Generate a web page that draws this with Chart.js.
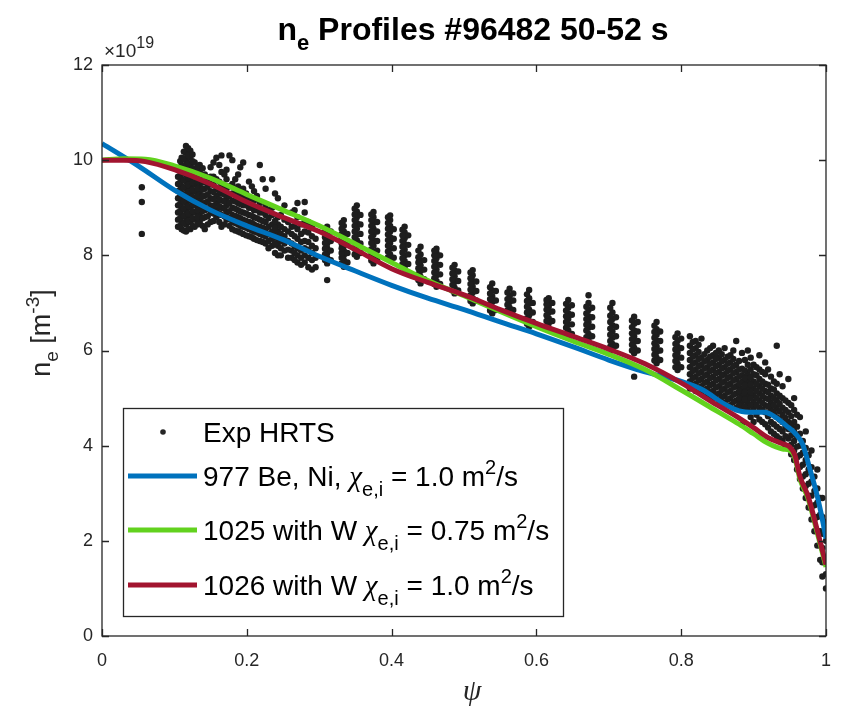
<!DOCTYPE html>
<html>
<head>
<meta charset="utf-8">
<script src="https://cdn.jsdelivr.net/npm/chart.js@4"></script>
<style>
html,body{margin:0;padding:0;background:#fff;}
#wrap{width:845px;height:716px;}
</style>
</head>
<body>
<div id="wrap"><canvas id="c" width="845" height="716"></canvas></div>
<script>
// ---- Data (ne in units of 1e19 m^-3) ----
const xTicks = [0, 0.2, 0.4, 0.6, 0.8, 1];
const yTicks = [0, 2, 4, 6, 8, 10, 12];

// Exp HRTS: channels (psi) with measured ne values
const hrtsPsi = [
  0.055,
  0.105, 0.110, 0.116, 0.122, 0.128, 0.135, 0.142, 0.150, 0.158, 0.165, 0.172, 0.180, 0.188, 0.195,
  0.203, 0.210, 0.218, 0.226, 0.235, 0.243, 0.252, 0.262, 0.270, 0.280, 0.290,
  0.311, 0.334, 0.352, 0.375, 0.398, 0.418, 0.440, 0.462, 0.487, 0.512, 0.539, 0.563, 0.590,
  0.617, 0.644, 0.672, 0.705, 0.735, 0.766, 0.795,
  0.316, 0.339, 0.357, 0.380, 0.403, 0.423, 0.445, 0.467, 0.492, 0.517, 0.544, 0.568, 0.595,
  0.622, 0.649, 0.677, 0.710, 0.740, 0.771, 0.800,
  0.812, 0.820, 0.828, 0.836, 0.844, 0.852, 0.860, 0.868, 0.876, 0.884, 0.892, 0.900, 0.908,
  0.916, 0.924, 0.932, 0.940, 0.948, 0.956, 0.964, 0.972, 0.980, 0.988, 0.995, 1.0
];
const hrtsNe = [
  [9.43, 9.12, 8.45],
  [8.6, 8.75, 8.9, 9.05, 9.2, 9.35, 9.5, 9.65, 9.8],
  [8.55, 8.7, 8.85, 9.0, 9.15, 9.3, 9.45, 9.6, 9.75, 9.9, 10.05],
  [8.5, 8.65, 8.8, 8.95, 9.1, 9.25, 9.4, 9.55, 9.7, 9.85, 10.0, 10.15, 10.3],
  [8.55, 8.7, 8.85, 9.0, 9.15, 9.3, 9.45, 9.6, 9.75, 9.9, 10.05, 10.2],
  [8.6, 8.75, 8.9, 9.05, 9.2, 9.35, 9.5, 9.65, 9.8, 9.95],
  [8.7, 8.85, 9.0, 9.15, 9.3, 9.45, 9.6, 9.75, 9.9],
  [8.55, 8.8, 8.95, 9.1, 9.25, 9.4, 9.55, 9.7],
  [8.7, 8.9, 9.05, 9.2, 9.35, 9.5, 9.65, 9.85],
  [8.8, 8.95, 9.1, 9.25, 9.4, 9.6, 10.05],
  [8.6, 8.85, 9.0, 9.15, 9.3, 9.5, 9.75, 10.1],
  [8.75, 8.9, 9.05, 9.2, 9.4, 9.6, 9.8],
  [8.55, 8.7, 8.85, 9.0, 9.15, 9.3, 9.5, 10.0],
  [8.5, 8.65, 8.8, 8.95, 9.1, 9.25, 9.45, 9.7],
  [8.45, 8.6, 8.75, 8.9, 9.05, 9.2, 9.4, 9.95],
  [8.4, 8.55, 8.7, 8.85, 9.0, 9.2, 9.55],
  [8.35, 8.5, 8.65, 8.8, 8.95, 9.15, 9.35],
  [8.3, 8.45, 8.6, 8.75, 8.9, 9.1, 9.9],
  [8.25, 8.4, 8.55, 8.7, 8.85, 9.05, 9.4],
  [8.2, 8.35, 8.5, 8.65, 8.85, 9.0, 9.6],
  [8.0, 8.2, 8.35, 8.5, 8.65, 8.8, 9.2],
  [8.1, 8.25, 8.4, 8.55, 8.75, 9.05],
  [7.95, 8.1, 8.25, 8.45, 8.6, 8.9],
  [7.85, 8.0, 8.15, 8.35, 8.55, 8.8, 9.1],
  [7.85, 8.0, 8.15, 8.3, 8.5, 8.7, 8.9, 9.12],
  [7.7, 7.9, 8.05, 8.2, 8.4, 8.6],
  [7.48, 7.83, 7.95, 8.05, 8.15, 8.25, 8.35, 8.45, 8.6],
  [7.76, 7.9, 8.0, 8.1, 8.2, 8.3, 8.4, 8.5, 8.62, 8.74],
  [7.97, 8.08, 8.2, 8.32, 8.44, 8.56, 8.68, 8.8, 8.92, 9.05],
  [7.83, 7.95, 8.07, 8.2, 8.32, 8.44, 8.56, 8.68, 8.8, 8.91],
  [7.9, 8.02, 8.14, 8.26, 8.38, 8.5, 8.62, 8.74, 8.84],
  [7.76, 7.88, 8.0, 8.12, 8.24, 8.36, 8.48, 8.6],
  [7.41, 7.55, 7.67, 7.79, 7.9, 8.02, 8.18],
  [7.34, 7.46, 7.58, 7.7, 7.82, 7.94, 8.05, 8.14],
  [7.2, 7.32, 7.44, 7.56, 7.68, 7.8],
  [6.99, 7.1, 7.22, 7.34, 7.46, 7.58, 7.69],
  [6.78, 6.9, 7.02, 7.14, 7.26, 7.41],
  [6.78, 6.9, 7.02, 7.14, 7.3],
  [6.5, 6.62, 6.74, 6.86, 6.98, 7.1, 7.27],
  [6.57, 6.68, 6.8, 6.92, 7.02, 7.1],
  [6.29, 6.42, 6.54, 6.66, 6.78, 6.9, 7.06],
  [6.22, 6.35, 6.48, 6.6, 6.72, 6.85, 7.0, 7.16],
  [6.01, 6.14, 6.27, 6.4, 6.53, 6.66, 6.8, 7.0],
  [5.45, 5.94, 6.06, 6.18, 6.3, 6.42, 6.56, 6.71],
  [5.73, 5.85, 5.97, 6.09, 6.21, 6.33, 6.45, 6.6],
  [5.59, 5.72, 5.84, 5.96, 6.08, 6.2, 6.36],
  [7.9, 8.1, 8.3, 8.5],
  [7.85, 8.05, 8.25, 8.45],
  [8.05, 8.25, 8.45, 8.65, 8.85],
  [7.9, 8.1, 8.3, 8.5, 8.7],
  [7.95, 8.15, 8.35, 8.55],
  [7.82, 8.02, 8.22, 8.42],
  [7.5, 7.7, 7.9],
  [7.4, 7.6, 7.8, 8.0],
  [7.26, 7.46, 7.66],
  [7.05, 7.25, 7.45],
  [6.85, 7.05, 7.25],
  [6.85, 7.05, 7.2],
  [6.6, 6.8, 7.0],
  [6.62, 6.82, 7.0],
  [6.35, 6.55, 6.75, 6.95],
  [6.3, 6.5, 6.7, 6.9],
  [6.1, 6.3, 6.5, 6.7],
  [6.0, 6.2, 6.4, 6.6],
  [5.8, 6.0, 6.2, 6.4],
  [5.65, 5.85, 6.05, 6.25],
  [5.2, 5.35, 5.5, 5.65, 5.8, 5.95, 6.1, 6.3],
  [5.15, 5.3, 5.45, 5.6, 5.75, 5.9, 6.05, 6.2],
  [5.1, 5.25, 5.4, 5.55, 5.7, 5.85, 6.25],
  [5.05, 5.2, 5.35, 5.5, 5.65, 5.8, 6.0],
  [5.0, 5.15, 5.3, 5.45, 5.6, 5.75, 5.9, 6.1],
  [4.95, 5.1, 5.25, 5.4, 5.55, 5.7, 5.85, 6.0],
  [4.9, 5.05, 5.2, 5.35, 5.5, 5.65, 5.8, 6.05],
  [4.85, 5.0, 5.15, 5.3, 5.45, 5.6, 5.75, 5.9],
  [4.8, 4.95, 5.1, 5.25, 5.4, 5.55, 5.7, 6.2],
  [4.45, 4.78, 4.92, 5.06, 5.2, 5.34, 5.48, 5.62, 5.95],
  [4.75, 4.9, 5.05, 5.2, 5.35, 5.5, 5.7, 6.0],
  [4.5, 4.78, 4.92, 5.06, 5.2, 5.35, 5.5, 5.7],
  [4.55, 4.8, 4.95, 5.1, 5.25, 5.4, 5.6, 5.9],
  [4.45, 4.7, 4.85, 5.0, 5.15, 5.3, 5.5, 5.75],
  [4.3, 4.5, 4.75, 4.9, 5.05, 5.2, 5.45],
  [4.2, 4.4, 4.6, 4.78, 4.95, 5.1, 5.3, 6.1],
  [4.1, 4.3, 4.5, 4.65, 4.8, 5.0, 5.25],
  [3.95, 4.15, 4.35, 4.5, 4.7, 4.9, 5.4],
  [3.7, 3.9, 4.1, 4.3, 4.5, 4.75, 5.0],
  [3.3, 3.55, 3.8, 4.0, 4.25, 4.6],
  [2.9, 3.15, 3.4, 3.7, 3.95, 4.3],
  [2.45, 2.7, 2.95, 3.25, 3.55, 3.9],
  [1.9, 2.2, 2.5, 2.8, 3.1, 3.5],
  [1.25, 1.55, 1.85, 2.15, 2.5, 2.9],
  [1.0, 1.3, 1.6, 2.0, 2.4]
];

// Exp HRTS: second (interleaved) sweep of the same channels
const hrtsPsiB = [
  0.108, 0.113, 0.119, 0.125, 0.132, 0.139, 0.146, 0.154, 0.162, 0.169, 0.176, 0.184, 0.191, 0.199,
  0.207, 0.214, 0.222, 0.230, 0.239, 0.247, 0.257, 0.266, 0.275, 0.285, 0.295,
  0.308, 0.331, 0.349, 0.372, 0.395, 0.415, 0.437, 0.459, 0.484, 0.509, 0.536, 0.560, 0.587,
  0.614, 0.641, 0.669, 0.702, 0.732, 0.763, 0.792,
  0.816, 0.824, 0.832, 0.840, 0.848, 0.856, 0.864, 0.872, 0.880, 0.888, 0.896, 0.904, 0.912,
  0.920, 0.928, 0.936, 0.944, 0.952, 0.960, 0.968, 0.976, 0.984, 0.992
];
const hrtsNeB = [
  [8.62, 8.78, 8.93, 9.08, 9.23, 9.38, 9.53, 9.68, 9.83, 9.98],
  [8.52, 8.68, 8.83, 8.98, 9.13, 9.28, 9.43, 9.58, 9.73, 9.88, 10.03, 10.18],
  [8.55, 8.72, 8.88, 9.03, 9.18, 9.33, 9.48, 9.63, 9.78, 9.93, 10.1, 10.25],
  [8.62, 8.78, 8.93, 9.08, 9.23, 9.38, 9.53, 9.68, 9.83, 9.98, 10.12],
  [8.65, 8.8, 8.95, 9.1, 9.25, 9.4, 9.55, 9.7, 9.85],
  [8.62, 8.78, 8.93, 9.08, 9.23, 9.38, 9.53, 9.68, 9.83],
  [8.65, 8.82, 8.98, 9.13, 9.28, 9.45, 9.6],
  [8.72, 8.88, 9.03, 9.18, 9.33, 9.48, 9.65, 9.95],
  [8.7, 8.88, 9.03, 9.18, 9.35, 9.55, 9.9],
  [8.65, 8.82, 8.98, 9.13, 9.28, 9.45, 9.7],
  [8.62, 8.78, 8.93, 9.1, 9.25, 9.45, 10.1],
  [8.52, 8.68, 8.83, 8.98, 9.13, 9.3, 9.6],
  [8.48, 8.62, 8.78, 8.92, 9.08, 9.25, 9.85],
  [8.42, 8.58, 8.72, 8.88, 9.05, 9.3],
  [8.38, 8.52, 8.68, 8.83, 9.0, 9.45],
  [8.32, 8.48, 8.62, 8.78, 8.95, 9.25],
  [8.28, 8.42, 8.58, 8.72, 8.9, 9.6],
  [8.15, 8.3, 8.45, 8.6, 8.78, 8.95],
  [8.05, 8.25, 8.42, 8.58, 8.72, 9.3],
  [8.0, 8.15, 8.3, 8.45, 8.6, 8.85],
  [7.95, 8.12, 8.3, 8.5, 8.7],
  [7.9, 8.05, 8.2, 8.4, 8.62, 8.95],
  [7.8, 7.95, 8.1, 8.28, 8.45, 8.65],
  [7.75, 7.95, 8.12, 8.28, 8.48, 8.7],
  [7.75, 7.95, 8.15, 8.35],
  [7.9, 8.02, 8.14, 8.26, 8.38, 8.5],
  [7.83, 7.95, 8.05, 8.15, 8.25, 8.35, 8.45, 8.56, 8.68],
  [8.02, 8.14, 8.26, 8.38, 8.5, 8.62, 8.74, 8.86, 8.98],
  [7.89, 8.01, 8.13, 8.26, 8.38, 8.5, 8.62, 8.74, 8.86],
  [7.96, 8.08, 8.2, 8.32, 8.44, 8.56, 8.68, 8.8],
  [7.82, 7.94, 8.06, 8.18, 8.3, 8.42, 8.54],
  [7.48, 7.61, 7.73, 7.85, 7.96, 8.1],
  [7.4, 7.52, 7.64, 7.76, 7.88, 8.0, 8.1],
  [7.26, 7.38, 7.5, 7.62, 7.74],
  [7.04, 7.16, 7.28, 7.4, 7.52, 7.64],
  [6.84, 6.96, 7.08, 7.2, 7.33],
  [6.84, 6.96, 7.08, 7.22],
  [6.56, 6.68, 6.8, 6.92, 7.04, 7.18],
  [6.62, 6.74, 6.86, 6.97, 7.06],
  [6.35, 6.48, 6.6, 6.72, 6.84, 6.98],
  [6.28, 6.42, 6.54, 6.66, 6.78, 6.92],
  [6.08, 6.2, 6.33, 6.46, 6.6, 6.73, 6.9],
  [6.0, 6.12, 6.24, 6.36, 6.49, 6.63],
  [5.79, 5.91, 6.03, 6.15, 6.27, 6.39, 6.52],
  [5.65, 5.78, 5.9, 6.02, 6.14, 6.28],
  [5.27, 5.42, 5.57, 5.72, 5.87, 6.02, 6.18],
  [5.22, 5.37, 5.52, 5.67, 5.82, 5.97, 6.12],
  [5.17, 5.32, 5.47, 5.62, 5.77, 5.92],
  [5.12, 5.27, 5.42, 5.57, 5.72, 5.87, 6.05],
  [5.07, 5.22, 5.37, 5.52, 5.67, 5.82, 5.95],
  [5.02, 5.17, 5.32, 5.47, 5.62, 5.77, 5.92],
  [4.97, 5.12, 5.27, 5.42, 5.57, 5.72, 5.87],
  [4.92, 5.07, 5.22, 5.37, 5.52, 5.67, 5.82, 6.0],
  [4.85, 5.0, 5.15, 5.3, 5.45, 5.6, 5.78],
  [4.82, 4.97, 5.12, 5.27, 5.42, 5.58, 5.8],
  [4.6, 4.85, 5.0, 5.13, 5.28, 5.43, 5.6, 5.85],
  [4.65, 4.85, 5.0, 5.15, 5.3, 5.48, 5.65],
  [4.5, 4.75, 4.9, 5.05, 5.2, 5.35, 5.55],
  [4.38, 4.62, 4.82, 4.98, 5.12, 5.28, 5.6],
  [4.25, 4.45, 4.68, 4.85, 5.0, 5.18, 5.35],
  [4.15, 4.35, 4.55, 4.72, 4.88, 5.05, 5.5],
  [4.0, 4.2, 4.4, 4.58, 4.75, 4.95],
  [3.82, 4.02, 4.22, 4.42, 4.62, 4.85],
  [3.5, 3.75, 3.98, 4.2, 4.4, 4.65],
  [3.1, 3.35, 3.6, 3.85, 4.1],
  [2.7, 2.95, 3.2, 3.5, 3.8],
  [2.2, 2.45, 2.75, 3.05, 3.35],
  [1.6, 1.9, 2.2, 2.55, 2.9]
];

// Model profiles
const bluePsi = [0, 0.05, 0.1, 0.15, 0.2, 0.25, 0.3, 0.35, 0.4, 0.45, 0.5, 0.55, 0.6, 0.65, 0.7, 0.75, 0.8, 0.83, 0.86, 0.88, 0.9, 0.915, 0.93, 0.945, 0.958, 0.968, 0.977, 0.987, 0.995, 1.0];
const blueNe  = [10.35, 9.88, 9.37, 8.95, 8.62, 8.33, 7.98, 7.67, 7.37, 7.1, 6.86, 6.6, 6.35, 6.08, 5.8, 5.55, 5.35, 5.17, 4.87, 4.73, 4.7, 4.7, 4.6, 4.42, 4.25, 4.02, 3.55, 3.0, 2.45, 2.05];
const greenPsi = [0, 0.03, 0.06, 0.1, 0.15, 0.2, 0.25, 0.3, 0.35, 0.4, 0.45, 0.5, 0.55, 0.6, 0.65, 0.7, 0.75, 0.8, 0.85, 0.88, 0.9, 0.92, 0.94, 0.95, 0.957, 0.964, 0.975, 0.99, 1.0];
const greenNe  = [10.0, 10.03, 10.02, 9.88, 9.62, 9.28, 8.95, 8.62, 8.24, 7.85, 7.47, 7.15, 6.82, 6.5, 6.2, 5.92, 5.6, 5.17, 4.72, 4.45, 4.25, 4.05, 3.93, 3.9, 3.75, 3.3, 2.9, 2.05, 1.45];
const redPsi = [0, 0.03, 0.06, 0.1, 0.15, 0.2, 0.25, 0.3, 0.35, 0.4, 0.45, 0.5, 0.55, 0.6, 0.65, 0.7, 0.75, 0.8, 0.85, 0.88, 0.9, 0.92, 0.94, 0.95, 0.957, 0.964, 0.975, 0.99, 1.0];
const redNe  = [10.0, 10.0, 9.97, 9.8, 9.5, 9.12, 8.8, 8.5, 8.12, 7.72, 7.43, 7.17, 6.86, 6.57, 6.3, 6.03, 5.72, 5.32, 4.85, 4.58, 4.38, 4.17, 4.04, 3.97, 3.8, 3.35, 2.95, 2.1, 1.5];

const seriesNames = ['Exp HRTS', '977 Be, Ni, ', '1025 with W ', '1026 with W '];
const seriesChi = [null, '1.0', '0.75', '1.0'];
const seriesColors = ['#262626', '#0072BD', '#62D21E', '#A2142F'];

// ---- Build datasets ----
const hrtsPts = [];
hrtsPsi.forEach((p, i) => hrtsNe[i].forEach(v => hrtsPts.push({x: p, y: v})));
hrtsPsiB.forEach((p, i) => hrtsNeB[i].forEach(v => hrtsPts.push({x: p, y: v})));
const toPts = (xs, ys) => xs.map((x, i) => ({x: x, y: ys[i]}));

const SANS = '"Liberation Sans", Arial, Helvetica, sans-serif';
const SERIF = '"Liberation Serif", "Times New Roman", serif';
const AX = '#262626';

function drawRich(ctx, parts, x, y, align) {
  let w = 0;
  parts.forEach(p => { ctx.font = p.font; w += ctx.measureText(p.t).width; });
  let cx = align === 'center' ? x - w / 2 : x;
  parts.forEach(p => {
    ctx.font = p.font;
    ctx.fillText(p.t, cx, y + (p.dy || 0));
    cx += ctx.measureText(p.t).width;
  });
  return w;
}

const decor = {
  id: 'decor',
  afterDraw(chart) {
    const ctx = chart.ctx, a = chart.chartArea;
    const xs = chart.scales.x, ys = chart.scales.y;
    ctx.save();
    // frame
    ctx.strokeStyle = AX; ctx.lineWidth = 1.3;
    ctx.strokeRect(a.left, a.top, a.right - a.left, a.bottom - a.top);
    // inward ticks
    ctx.beginPath();
    xTicks.forEach(t => {
      const px = Math.round(xs.getPixelForValue(t)) + 0.5;
      ctx.moveTo(px, a.bottom); ctx.lineTo(px, a.bottom - 7);
      ctx.moveTo(px, a.top); ctx.lineTo(px, a.top + 7);
    });
    yTicks.forEach(t => {
      const py = Math.round(ys.getPixelForValue(t)) + 0.5;
      ctx.moveTo(a.left, py); ctx.lineTo(a.left + 7, py);
      ctx.moveTo(a.right, py); ctx.lineTo(a.right - 7, py);
    });
    ctx.stroke();

    ctx.fillStyle = '#000';
    ctx.textBaseline = 'alphabetic';
    // title
    drawRich(ctx, [
      {t: 'n', font: 'bold 32px ' + SANS},
      {t: 'e', font: 'bold 22px ' + SANS, dy: 10},
      {t: ' Profiles #96482 50-52 s', font: 'bold 32px ' + SANS}
    ], 473, 40, 'center');

    // exponent
    ctx.fillStyle = AX;
    drawRich(ctx, [
      {t: '\u00d710', font: '19px ' + SANS},
      {t: '19', font: '16px ' + SANS, dy: -9},
    ], 104, 57, 'left');

    // x label
    drawRich(ctx, [{t: '\u03c8', font: 'italic 30px ' + SERIF}], 472, 700, 'center');

    // y label
    ctx.save();
    ctx.translate(50, 333);
    ctx.rotate(-Math.PI / 2);
    drawRich(ctx, [
      {t: 'n', font: '27px ' + SANS},
      {t: 'e', font: '19px ' + SANS, dy: 8},
      {t: ' [m', font: '27px ' + SANS},
      {t: '-3', font: '19px ' + SANS, dy: -11},
      {t: ']', font: '27px ' + SANS}
    ], 0, 0, 'center');
    ctx.restore();

    // legend
    const L = {x: 123, y: 408, w: 440, h: 208};
    ctx.fillStyle = '#fff';
    ctx.fillRect(L.x, L.y, L.w, L.h);
    ctx.strokeStyle = AX; ctx.lineWidth = 1.3;
    ctx.strokeRect(L.x + 0.5, L.y + 0.5, L.w, L.h);
    const rows = [432, 476, 530, 585];
    const F = '28px ' + SANS, FS = '20px ' + SANS;
    rows.forEach((ry, i) => {
      if (i === 0) {
        ctx.fillStyle = seriesColors[0];
        ctx.beginPath(); ctx.arc(163, ry, 2.8, 0, Math.PI * 2); ctx.fill();
      } else {
        ctx.strokeStyle = seriesColors[i]; ctx.lineWidth = 5;
        ctx.beginPath(); ctx.moveTo(128, ry); ctx.lineTo(197, ry); ctx.stroke();
      }
      ctx.fillStyle = '#000';
      const parts = [{t: seriesNames[i], font: F}];
      if (seriesChi[i]) {
        parts.push({t: '\u03c7', font: 'italic 29px ' + SERIF});
        parts.push({t: 'e,i', font: FS, dy: 10});
        parts.push({t: ' = ' + seriesChi[i] + ' m', font: F});
        parts.push({t: '2', font: FS, dy: -12});
        parts.push({t: '/s', font: F});
      }
      drawRich(ctx, parts, 203, ry + 10, 'left');
    });
    ctx.restore();
  }
};

new Chart(document.getElementById('c'), {
  type: 'scatter',
  data: {
    datasets: [
      {label: seriesNames[0], data: hrtsPts, backgroundColor: '#1e1e1e', borderWidth: 0, pointRadius: 3.2, order: 4},
      {label: seriesNames[1], data: toPts(bluePsi, blueNe), showLine: true, borderColor: seriesColors[1], borderWidth: 5, pointRadius: 0, cubicInterpolationMode: 'monotone', order: 3},
      {label: seriesNames[2], data: toPts(greenPsi, greenNe), showLine: true, borderColor: seriesColors[2], borderWidth: 5, pointRadius: 0, cubicInterpolationMode: 'monotone', order: 2},
      {label: seriesNames[3], data: toPts(redPsi, redNe), showLine: true, borderColor: seriesColors[3], borderWidth: 5, pointRadius: 0, cubicInterpolationMode: 'monotone', order: 1}
    ]
  },
  options: {
    responsive: false,
    animation: false,
    events: [],
    layout: {padding: {top: 65, right: 1, left: 0, bottom: 0}, autoPadding: false},
    plugins: {legend: {display: false}, title: {display: false}, tooltip: {enabled: false}},
    scales: {
      x: {
        type: 'linear', min: 0, max: 1,
        afterBuildTicks: s => { s.ticks = xTicks.map(v => ({value: v})); },
        afterFit: s => { s.height = 80; },
        grid: {display: false, drawTicks: false},
        border: {display: false},
        ticks: {color: AX, font: {family: SANS, size: 18}, padding: 14, maxRotation: 0,
                callback: v => String(v)}
      },
      y: {
        type: 'linear', min: 0, max: 12,
        afterBuildTicks: s => { s.ticks = yTicks.map(v => ({value: v})); },
        afterFit: s => { s.width = 102; },
        grid: {display: false, drawTicks: false},
        border: {display: false},
        ticks: {color: AX, font: {family: SANS, size: 18}, padding: 9, callback: v => String(v)}
      }
    }
  },
  plugins: [decor]
});
</script>
</body>
</html>
